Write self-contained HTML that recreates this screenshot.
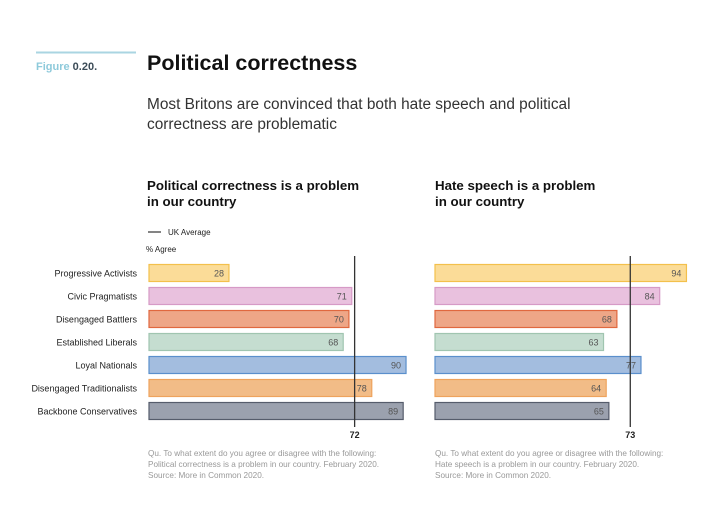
<!DOCTYPE html>
<html><head><meta charset="utf-8"><style>
body{margin:0;background:#fff;}
svg{display:block;font-family:"Liberation Sans",sans-serif;}
</style></head><body>
<svg id="chart" width="720" height="508" viewBox="0 0 720 508">
<line x1="36" y1="52.5" x2="136" y2="52.5" stroke="#aad5e2" stroke-width="2"/>
<text x="36" y="70" font-size="11" font-weight="bold"><tspan fill="#8ecadb">Figure </tspan><tspan fill="#3b4b57">0.20.</tspan></text>
<text x="147" y="70" font-size="21.5" font-weight="bold" fill="#111">Political correctness</text>
<text x="147" y="109" font-size="15.4" fill="#333">Most Britons are convinced that both hate speech and political</text>
<text x="147" y="129" font-size="15.4" fill="#333">correctness are problematic</text>
<text x="147" y="190" font-size="13.3" font-weight="bold" fill="#111">Political correctness is a problem</text>
<text x="147" y="206" font-size="13.3" font-weight="bold" fill="#111">in our country</text>
<text x="435" y="190" font-size="13.3" font-weight="bold" fill="#111">Hate speech is a problem</text>
<text x="435" y="206" font-size="13.3" font-weight="bold" fill="#111">in our country</text>
<line x1="148" y1="232" x2="161" y2="232" stroke="#333" stroke-width="1.2"/>
<text x="168" y="235" font-size="8" fill="#222">UK Average</text>
<text x="146" y="252" font-size="8" fill="#222">% Agree</text>
<g id="left"></g>
<g id="right"></g>
<g fill="#999" font-size="8.2">
<text x="148" y="456">Qu. To what extent do you agree or disagree with the following:</text>
<text x="148" y="467">Political correctness is a problem in our country. February 2020.</text>
<text x="148" y="478">Source: More in Common 2020.</text>
</g>
<g fill="#999" font-size="8.2">
<text x="435" y="456">Qu. To what extent do you agree or disagree with the following:</text>
<text x="435" y="467">Hate speech is a problem in our country.  February 2020.</text>
<text x="435" y="478">Source: More in Common 2020.</text>
</g>
</svg>
<script>
const categories = ["Progressive Activists","Civic Pragmatists","Disengaged Battlers","Established Liberals","Loyal Nationals","Disengaged Traditionalists","Backbone Conservatives"];
const pcValues = [28,71,70,68,90,78,89];
const hsValues = [94,84,68,63,77,64,65];
const pcAverage = 72;
const hsAverage = 73;
const fills = ["#fbdc98","#e9c1de","#eea687","#c5ddd0","#a3bddf","#f2bc87","#9ba1ae"];
const strokes = ["#f3c04c","#d69ac6","#e0683f","#a0c5b0","#5a8fcc","#eea35d","#555c6b"];
const NS = "http://www.w3.org/2000/svg";
function mk(tag, attrs, parent){const e=document.createElementNS(NS,tag);for(const k in attrs)e.setAttribute(k,attrs[k]);parent.appendChild(e);return e;}
const yPos = i => 273 + i*23;
function draw(gid, values, avg, x0, scale, labels){
  const g = document.getElementById(gid);
  const xs = v => x0 + v*scale;
  values.forEach((v,i)=>{
    const r = mk('rect',{x:x0,y:yPos(i)-8.5,width:xs(v)-x0,height:17,fill:fills[i],stroke:strokes[i],'stroke-width':1.2},g);
    
    
    const t = mk('text',{x:xs(v)-5,y:yPos(i)+3.5,'font-size':9,fill:'#555','text-anchor':'end'},g);
    t.textContent = v;
    
    
    if(labels){
      const l = mk('text',{x:137,y:yPos(i)+3.5,'font-size':9,fill:'#222','text-anchor':'end'},g);
      l.textContent = categories[i];
      
      
    }
  });
  const ln = mk('line',{x1:xs(avg),x2:xs(avg),y1:256,y2:427,stroke:'#333','stroke-width':1.3},g);
  
  
  const at = mk('text',{x:xs(avg),y:438,'font-size':9,'font-weight':'bold',fill:'#222','text-anchor':'middle'},g);
  at.textContent = avg;
  
  
}
draw('left', pcValues, pcAverage, 149, 2.856, true);
draw('right', hsValues, hsAverage, 435, 2.675, false);
</script>
</body></html>
